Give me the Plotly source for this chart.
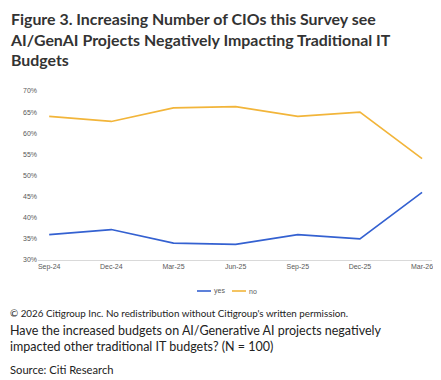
import plotly.graph_objects as go

categories = ["Sep-24", "Dec-24", "Mar-25", "Jun-25", "Sep-25", "Dec-25", "Mar-26"]
yes_values = [36.0, 37.2, 34.0, 33.7, 36.0, 35.0, 46.0]
no_values = [64.0, 62.8, 66.0, 66.3, 64.0, 65.0, 54.0]
series_names = ["yes", "no"]
series_colors = ["#3461d1", "#f2b53a"]
y_ticks = [30, 35, 40, 45, 50, 55, 60, 65, 70]
y_tick_labels = [f"{v}%" for v in y_ticks]

# page body has an 8px default margin; work in reference pixel coords and shift
OFF = 8
W, H = 441 - OFF, 380 - OFF
PL, PR, PT, PB = 38, 432, 91, 260  # plot box in reference pixels
L, R, T, B = PL - OFF, W - (PR - OFF), PT - OFF, H - (PB - OFF)
pw, ph = PR - PL, PB - PT

def px(x):
    return (x - PL) / pw

def py(y):
    return (PB - y) / ph

fig = go.Figure()
for name, vals, col in zip(series_names, [yes_values, no_values], series_colors):
    fig.add_trace(go.Scatter(x=categories, y=vals, mode="lines", name=name,
                             line=dict(color=col, width=1.6)))

small_font = dict(family="Liberation Sans Narrow, Liberation Sans, Arial", size=7, color="#595959")

fig.update_layout(
    width=W, height=H,
    margin=dict(l=L, r=R, t=T, b=B, autoexpand=False),
    paper_bgcolor="white", plot_bgcolor="white",
    showlegend=False,
    xaxis=dict(type="category", range=[-0.18, 6.16], showgrid=False, zeroline=False,
               showline=True, linecolor="#d9d9d9", linewidth=1, ticks="", automargin=False,
               tickfont=small_font, fixedrange=True),
    yaxis=dict(range=[30, 70], tickvals=y_ticks, ticktext=y_tick_labels, showgrid=False,
               zeroline=False, showline=False, ticks="", tickfont=small_font, automargin=False,
               fixedrange=True),
)

# custom compact legend (short line keys like the reference)
legend_items = [(197, 211, 212), (232, 246, 247)]
for (x0, x1, xt), name, col in zip(legend_items, series_names, series_colors):
    fig.add_shape(type="line", xref="paper", yref="paper", x0=px(x0), x1=px(x1),
                  y0=py(291), y1=py(291), line=dict(color=col, width=1.6))
    fig.add_annotation(text=name, x=px(xt), y=py(291), xref="paper", yref="paper",
                       xanchor="left", yanchor="middle", showarrow=False, font=small_font)

anns = [
    dict(text="<b>Figure 3. Increasing Number of CIOs this Survey see<br>AI/GenAI Projects Negatively Impacting Traditional IT<br>Budgets</b>",
         x=px(8), y=py(7), size=15.9, color="#333333", family="Lato"),
    dict(text="© 2026 Citigroup Inc. No redistribution without Citigroup's written permission.",
         x=px(8), y=py(305), size=9.8, color="#222222", family="Lato"),
    dict(text="Have the increased budgets on AI/Generative AI projects negatively<br>impacted other traditional IT budgets? (N = 100)",
         x=px(8), y=py(321), size=12.5, color="#222222", family="Lato"),
    dict(text="Source: Citi Research",
         x=px(8), y=py(361), size=11.2, color="#222222", family="Lato"),
]
for a in anns:
    fig.add_annotation(text=a["text"], x=a["x"], y=a["y"], xref="paper", yref="paper",
                       xanchor="left", yanchor="top", showarrow=False, align="left",
                       font=dict(family=a["family"], size=a["size"], color=a["color"]))

fig.write_html("out.html")
